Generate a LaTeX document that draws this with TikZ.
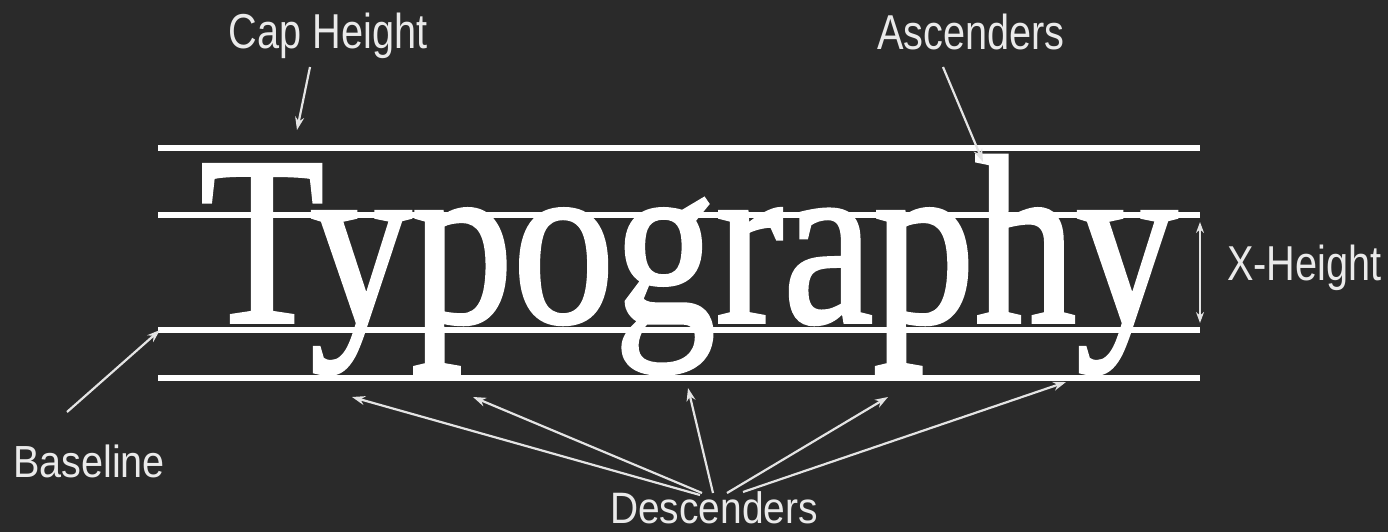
\documentclass[tikz,border=0pt]{standalone}
\usepackage{graphicx}
\usepackage{fontspec}
\setmainfont{Liberation Serif}
\newfontfamily\wordfont[FakeBold=1.6]{Liberation Serif}
\newfontfamily\labfont{Liberation Sans}
\usetikzlibrary{arrows.meta}
\definecolor{bg}{HTML}{2A2A2A}
\definecolor{arr}{HTML}{E4E4E4}
\definecolor{labc}{HTML}{EAEAEA}
\begin{document}
\begin{tikzpicture}[x=1pt,y=-1pt,
  guide/.style={white, line width=6pt},
  pointer/.style={arr, line width=2.2pt, -{Stealth[length=13pt,width=9pt]}},
  lab/.style={text=labc, inner sep=0, anchor=base}]
\fill[bg] (0,0) rectangle (1388,532);
\useasboundingbox (0,0) rectangle (1388,532);
% guide lines
\coordinate (capL) at (158,148); \coordinate (capR) at (1200,148);
\coordinate (xL) at (158,215);   \coordinate (xR) at (1200,215);
\coordinate (bL) at (158,330);   \coordinate (bR) at (1200,330);
\coordinate (dL) at (158,378);   \coordinate (dR) at (1200,378);
% the word
\node[inner sep=0, anchor=base west, text=white] (word) at (200,322)
  {\scalebox{0.845}[1]{\wordfont\fontsize{240}{240}\selectfont Typography}};
\draw[guide] (capL) -- (capR);
\draw[guide] (xL) -- (xR);
\draw[guide] (bL) -- (bR);
\draw[guide] (dL) -- (dR);
% labels
\node[lab] (cap) at (328,49) {\scalebox{0.81}[1]{\labfont\fontsize{49}{49}\selectfont Cap Height}};
\node[lab] (asc) at (971,50) {\scalebox{0.81}[1]{\labfont\fontsize{49}{49}\selectfont Ascenders}};
\node[lab, anchor=base west] (xh) at (1227,280) {\scalebox{0.81}[1]{\labfont\fontsize{49}{49}\selectfont X-Height}};
\node[lab] (base) at (89,477) {\scalebox{0.88}[1]{\labfont\fontsize{45}{45}\selectfont Baseline}};
\node[lab] (desc) at (714,523) {\scalebox{0.885}[1]{\labfont\fontsize{44}{44}\selectfont Descenders}};
% arrow ends
\coordinate (capS) at (310,67);  \coordinate (capT) at (297,130);
\coordinate (ascS) at (943,67);  \coordinate (ascT) at (983,162);
\coordinate (xhA) at (1200,222); \coordinate (xhB) at (1200,323);
\coordinate (baseS) at (67,412); \coordinate (baseT) at (160,330);
\coordinate (d1S) at (700,495);  \coordinate (d1T) at (352,397);
\coordinate (d2S) at (702,493);  \coordinate (d2T) at (473,397);
\coordinate (d3S) at (713,493);  \coordinate (d3T) at (688,388);
\coordinate (d4S) at (727,493);  \coordinate (d4T) at (888,397);
\coordinate (d5S) at (743,492);  \coordinate (d5T) at (1066,382);
\draw[pointer] (capS) -- (capT);
\draw[pointer] (ascS) -- (ascT);
\draw[arr, line width=1.6pt, {Stealth[length=11pt,width=8pt]}-{Stealth[length=11pt,width=8pt]}] (xhA) -- (xhB);
\draw[pointer] (baseS) -- (baseT);
\draw[pointer] (d1S) -- (d1T);
\draw[pointer] (d2S) -- (d2T);
\draw[pointer] (d3S) -- (d3T);
\draw[pointer] (d4S) -- (d4T);
\draw[pointer] (d5S) -- (d5T);
\end{tikzpicture}
\end{document}
